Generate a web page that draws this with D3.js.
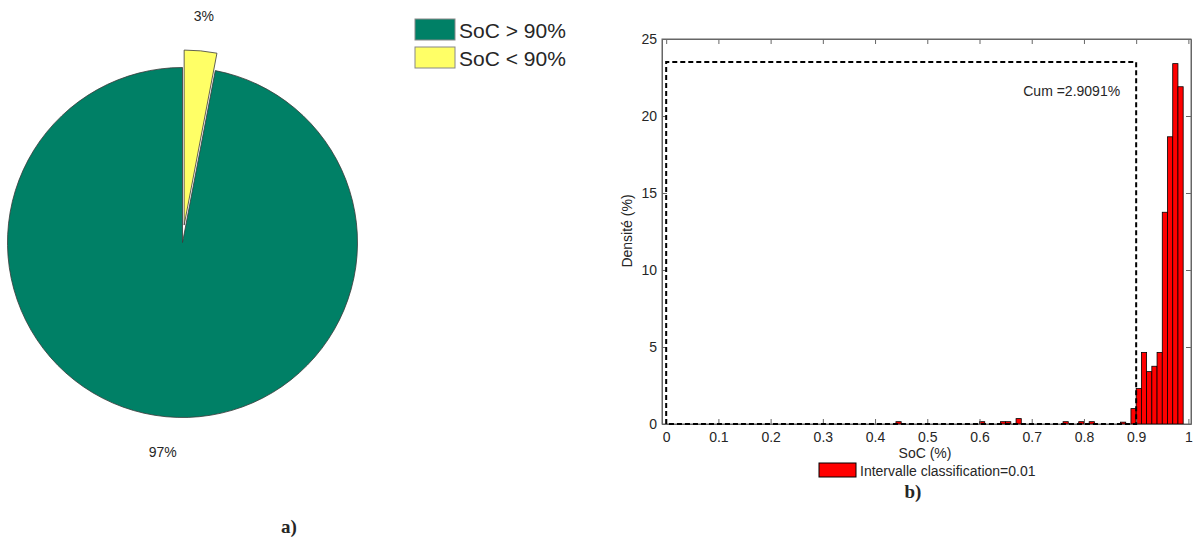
<!DOCTYPE html>
<html><head><meta charset="utf-8">
<script src="https://cdn.jsdelivr.net/npm/d3@7"></script>
<style>
html,body{margin:0;padding:0;background:#fff;}
text{font-family:"Liberation Sans",Arial,sans-serif;fill:#262626;}
</style></head>
<body><svg id="c" width="1195" height="537"></svg>
<script>
// ---- Pie data ----
const pieLabels = ["SoC > 90%", "SoC < 90%"];
const pieValues = [97, 3];
const pieText = ["97%", "3%"];
const pieColors = ["#008066", "#FFFF66"];
const pieExplode = [false, true];

// ---- Histogram data (bin left edges, density %) ----
const binStarts = [0.44, 0.60, 0.64, 0.65, 0.67, 0.76, 0.79, 0.81, 0.87, 0.89, 0.90, 0.91, 0.92, 0.93, 0.94, 0.95, 0.96, 0.97, 0.98];
const binValues = [0.15, 0.15, 0.15, 0.15, 0.35, 0.15, 0.15, 0.15, 0.12, 1.0, 2.3, 4.65, 3.4, 3.75, 4.65, 13.75, 18.65, 23.4, 21.9];
const binWidth = 0.01;
const xTicks = [0, 0.1, 0.2, 0.3, 0.4, 0.5, 0.6, 0.7, 0.8, 0.9, 1];
const yTicks = [0, 5, 10, 15, 20, 25];
const cumThreshold = 0.9;
const cumHeight = 23.5;
const cumLabel = "Cum =2.9091%";
const histLegend = "Intervalle classification=0.01";

const svg = d3.select("#c");
svg.append("rect").attr("width",1195).attr("height",537).attr("fill","#fff");

// ===== Pie =====
const cx = 182.5, cy = 242.5, R = 175;
const pie = d3.pie().sort(null)
  .startAngle(-2*Math.PI*pieValues[0]/d3.sum(pieValues))
  .endAngle(2*Math.PI*pieValues[1]/d3.sum(pieValues));
const arcs = pie(pieValues);
const arc = d3.arc().innerRadius(0).outerRadius(R);
const gp = svg.append("g");
arcs.forEach((a,i)=>{
  const mid = (a.startAngle+a.endAngle)/2;
  const off = pieExplode[i] ? 0.1*R : 0;
  const ox = cx + off*Math.sin(mid), oy = cy - off*Math.cos(mid);
  gp.append("path").attr("d", arc(a)).attr("transform",`translate(${ox},${oy})`)
    .attr("fill", pieColors[i]).attr("stroke","#3a3a3a").attr("stroke-width",0.8);
  gp.append("text").attr("x", ox + 1.2*R*Math.sin(mid)).attr("y", oy - 1.2*R*Math.cos(mid))
    .attr("text-anchor","middle").attr("dominant-baseline","central")
    .attr("font-size",14).text(pieText[i]);
});
// pie legend
pieLabels.forEach((l,i)=>{
  svg.append("rect").attr("x",415).attr("y",19+28*i).attr("width",40).attr("height",21)
    .attr("fill",pieColors[i]).attr("stroke","#888").attr("stroke-width",1);
  svg.append("text").attr("x",459).attr("y",38+28*i).attr("font-size",21).text(l);
});
svg.append("text").attr("x",289).attr("y",533).attr("text-anchor","middle")
  .style("font-family","'Liberation Serif','Times New Roman',serif").attr("font-weight","bold")
  .attr("font-size",19).text("a)");

// ===== Histogram =====
const x = d3.scaleLinear().domain([-0.008, 1.005]).range([662, 1191]);
const y = d3.scaleLinear().domain([0, 25]).range([424, 39]);
const gh = svg.append("g");
const axCol = "#666";
// box
gh.append("rect").attr("x",x.range()[0]).attr("y",y(25)).attr("width",x.range()[1]-x.range()[0])
  .attr("height",y(0)-y(25)).attr("fill","none").attr("stroke",axCol).attr("stroke-width",1);
// bars
gh.selectAll("rect.bar").data(binStarts).join("rect").attr("class","bar")
  .attr("x",d=>x(d)).attr("width",d=>x(d+binWidth)-x(d))
  .attr("y",(d,i)=>y(binValues[i])).attr("height",(d,i)=>y(0)-y(binValues[i]))
  .attr("fill","#ff0000").attr("stroke","#000").attr("stroke-width",0.8);
// axes
const xAx = gh.append("g").attr("transform",`translate(0,${y(0)})`)
  .call(d3.axisBottom(x).tickValues(xTicks).tickSizeInner(-5).tickSizeOuter(0).tickPadding(8).tickFormat(d3.format("")));
const xAxT = gh.append("g").attr("transform",`translate(0,${y(25)})`)
  .call(d3.axisTop(x).tickValues(xTicks).tickSizeInner(-5).tickSizeOuter(0).tickFormat(""));
const yAx = gh.append("g").attr("transform",`translate(${x.range()[0]},0)`)
  .call(d3.axisLeft(y).tickValues(yTicks).tickSizeInner(-5).tickSizeOuter(0).tickPadding(5));
const yAxR = gh.append("g").attr("transform",`translate(${x.range()[1]},0)`)
  .call(d3.axisRight(y).tickValues(yTicks).tickSizeInner(-5).tickSizeOuter(0).tickFormat(""));
[xAx,xAxT,yAx,yAxR].forEach(g=>{
  g.select(".domain").attr("stroke",axCol);
  g.selectAll(".tick line").attr("stroke",axCol);
  g.selectAll("text").attr("font-size",14).attr("fill","#262626")
   .style("font-family","'Liberation Sans',Arial,sans-serif");
});
// cumulative dashed rectangle
gh.append("path")
  .attr("d",`M${x(0)},${y(0)}V${y(cumHeight)}H${x(cumThreshold)}V${y(0)}Z`)
  .attr("fill","none").attr("stroke","#000").attr("stroke-width",2).attr("stroke-dasharray","5,3");
gh.append("text").attr("x",x(cumThreshold)-16).attr("y",96).attr("text-anchor","end")
  .attr("font-size",14).text(cumLabel);
// axis labels
gh.append("text").attr("x",925).attr("y",458).attr("text-anchor","middle").attr("font-size",14).text("SoC (%)");
gh.append("text").attr("transform","translate(632,231) rotate(-90)").attr("text-anchor","middle")
  .attr("font-size",14).text("Densité (%)");
// legend
gh.append("rect").attr("x",819).attr("y",463).attr("width",37).attr("height",14)
  .attr("fill","#ff0000").attr("stroke","#000").attr("stroke-width",1);
gh.append("text").attr("x",860).attr("y",476).attr("font-size",14).text(histLegend);
svg.append("text").attr("x",913).attr("y",498).attr("text-anchor","middle")
  .style("font-family","'Liberation Serif','Times New Roman',serif").attr("font-weight","bold")
  .attr("font-size",19).text("b)");
</script></body></html>
